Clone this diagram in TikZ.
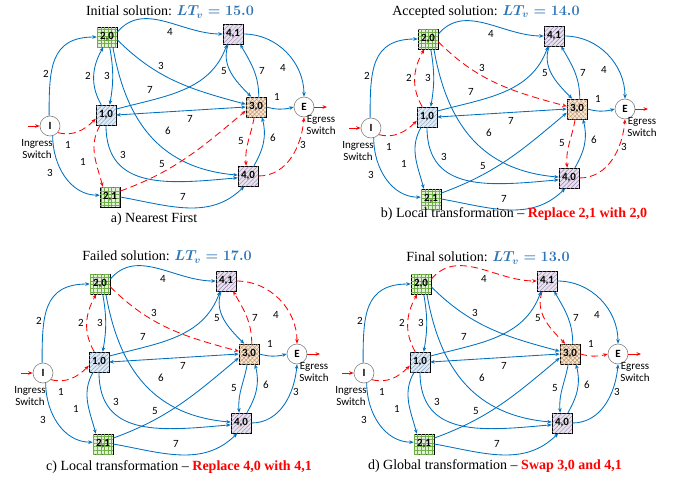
\documentclass[tikz,border=0pt]{standalone}
\usepackage{fontspec}
\setmainfont{Liberation Serif}
\newfontfamily\lblfont{Carlito}
\usetikzlibrary{arrows.meta,patterns.meta,shadows}
\definecolor{myblue}{RGB}{0,112,192}
\definecolor{myred}{RGB}{255,0,0}
\definecolor{tblue}{RGB}{46,117,182}
\definecolor{gfill}{RGB}{226,240,217}
\definecolor{gline}{RGB}{112,173,71}
\definecolor{pfill}{RGB}{232,226,238}
\definecolor{pline}{RGB}{150,130,170}
\definecolor{bfill}{RGB}{222,235,247}
\definecolor{bline}{RGB}{140,160,185}
\definecolor{ofill}{RGB}{248,232,214}
\definecolor{oline}{RGB}{190,150,110}
\newcommand{\ltval}[1]{\textcolor{tblue}{\boldmath$LT_v = #1$}}
\tikzset{
 arrtip/.style={-{Stealth[length=4.5pt,width=3.6pt]}},
 blu/.style={draw=myblue, line width=0.85pt, arrtip},
 rd/.style={draw=myred, line width=0.85pt, dash pattern=on 7pt off 4pt, arrtip},
 rdsolid/.style={draw=myred, line width=0.85pt, arrtip},
 sq/.style={draw=black, line width=0.5pt, minimum size=20pt, inner sep=0pt,
   font={\lblfont\bfseries\fontsize{11}{12}\selectfont},
   drop shadow={shadow xshift=0.8pt, shadow yshift=-0.8pt, opacity=0.35}},
 grn/.style={sq, fill=gfill, postaction={pattern={Hatch[angle=0,distance=3.6pt,line width=0.45pt]}, pattern color=gline}},
 pur/.style={sq, fill=pfill, postaction={pattern={Lines[angle=45,distance=3pt,line width=0.45pt]}, pattern color=pline}},
 lbu/.style={sq, fill=bfill, postaction={pattern={Lines[angle=45,distance=3pt,line width=0.45pt]}, pattern color=bline}},
 org/.style={sq, fill=ofill, postaction={pattern={Hatch[angle=45,distance=3pt,line width=0.45pt]}, pattern color=oline}},
 sw/.style={circle, draw=black!50, line width=0.6pt, fill=white, minimum size=20pt, inner sep=0pt,
   font={\lblfont\bfseries\fontsize{11}{12}\selectfont}},
 lbl/.style={inner sep=0pt, font={\lblfont\fontsize{11}{12}\selectfont}},
 swl/.style={inner sep=0pt, align=center, font={\lblfont\fontsize{11}{12.5}\selectfont}},
 ttl/.style={inner sep=0pt, font={\fontsize{14}{16}\selectfont}},
 cnA/.style={blu}, cnB/.style={blu}, cnC/.style={blu}, cnD/.style={blu},
 cnE/.style={blu}, cnF/.style={blu}, cnG/.style={blu}, cnH/.style={blu},
 cnJ/.style={blu}, cnK/.style={blu}, cnL/.style={blu}, cnM/.style={blu},
 cnN/.style={blu}, cnP/.style={blu}, cnQ/.style={blu}, cnR/.style={blu},
 cnS/.style={blu}, cnT/.style={blu}, cnU/.style={blu}, cnV/.style={blu},
 cnW/.style={blu},
}
\newcommand{\netpanel}[1]{%
 \node[sw]  (#1-I)  at (50,-126) {I};
 \node[grn] (#1-20) at (107,-37) {2,0};
 \node[pur] (#1-41) at (233,-34) {4,1};
 \node[lbu] (#1-10) at (106,-115) {1,0};
 \node[org] (#1-30) at (256,-107) {3,0};
 \node[sw]  (#1-E)  at (304,-107) {E};
 \node[pur] (#1-40) at (248,-176) {4,0};
 \node[grn] (#1-21) at (110,-197) {2,1};
 \node[swl] (#1-ing) at (37,-149) {Ingress\\Switch};
 \node[swl] (#1-egr) at (321,-125) {Egress\\Switch};
 \coordinate (#1-inl) at (28,-126);
 \coordinate (#1-outr) at (327,-107);
 \draw[rdsolid] (#1-inl) -- (#1-I.west);
 \draw[rdsolid] (#1-E.east) -- (#1-outr);
 \draw[cnA] (#1-I.95) to[out=90,in=180,looseness=1.3] (#1-20.west);
 \draw[cnB] (#1-I.-40) to[out=-15,in=225] (#1-10.200);
 \draw[cnC] (#1-I.-75) to[out=-90,in=180] (#1-21.170);
 \draw[cnD] (#1-20.25) to[out=50,in=180] (#1-41.west);
 \draw[cnE] (#1-20.-15) to[out=-45,in=165] (#1-30.165);
 \draw[cnF] (#1-20.-75) to[out=-80,in=80] (#1-10.70);
 \draw[cnG] (#1-10.115) to[out=120,in=-120] (#1-20.-110);
 \draw[cnH] (#1-10.30) to[out=15,in=-110] (#1-41.-120);
 \draw[cnJ] (#1-20.-60) to[out=-80,in=175,looseness=1.1] (#1-40.175);
 \draw[cnK,{Stealth[length=4.5pt,width=3.6pt]}-{Stealth[length=4.5pt,width=3.6pt]}] (#1-10.east) -- (#1-30.west);
 \draw[cnL] (#1-10.-90) to[out=-90,in=185,looseness=1.2] (#1-40.190);
 \draw[cnM] (#1-10.-120) to[out=-120,in=105] (#1-21.125);
 \draw[cnN] (#1-21.30) to[out=20,in=-140] (#1-30.200);
 \draw[cnP] (#1-21.east) to[out=-10,in=-135] (#1-40.-110);
 \draw[cnQ] (#1-30.75) to[out=90,in=-60] (#1-41.-55);
 \draw[cnR] (#1-41.-115) to[out=-110,in=135] (#1-30.115);
 \draw[cnS] (#1-41.east) to[out=0,in=90] (#1-E.north);
 \draw[cnT] (#1-30.east) to[out=-15,in=195] (#1-E.west);
 \draw[cnU] (#1-30.-100) to[out=-100,in=95] (#1-40.100);
 \draw[cnV] (#1-40.60) to[out=60,in=-75] (#1-30.-60);
 \draw[cnW] (#1-40.east) to[out=0,in=-95] (#1-E.south);
 \node[lbl] (#1-lA) at (46,-74) {2};
 \node[lbl] (#1-lB) at (68,-145) {1};
 \node[lbl] (#1-lC) at (50,-173) {3};
 \node[lbl] (#1-lD) at (170,-32) {4};
 \node[lbl] (#1-lE) at (161,-66) {3};
 \node[lbl] (#1-lF) at (107,-76) {3};
 \node[lbl] (#1-lG) at (88,-76) {2};
 \node[lbl] (#1-lH) at (150,-90) {7};
 \node[lbl] (#1-lJ) at (168,-131) {6};
 \node[lbl] (#1-lK) at (190,-119) {7};
 \node[lbl] (#1-lL) at (123,-155) {3};
 \node[lbl] (#1-lM) at (83,-162) {1};
 \node[lbl] (#1-lN) at (162,-164) {5};
 \node[lbl] (#1-lP) at (183,-197) {7};
 \node[lbl] (#1-lQ) at (262,-71) {7};
 \node[lbl] (#1-lR) at (224,-71) {5};
 \node[lbl] (#1-lS) at (283,-68) {4};
 \node[lbl] (#1-lT) at (277,-97) {1};
 \node[lbl] (#1-lU) at (241,-141) {5};
 \node[lbl] (#1-lV) at (273,-138) {6};
 \node[lbl] (#1-lW) at (303,-145) {3};
}
\begin{document}
\begin{tikzpicture}[x=1pt,y=1pt]
\useasboundingbox (0,0) rectangle (673,-479);
\begin{scope}[cnB/.style={rd}, cnM/.style={rd}, cnN/.style={rd}, cnU/.style={rd}, cnW/.style={rd}]
 \netpanel{a}
\end{scope}
\begin{scope}[shift={(321,-2)}, cnB/.style={rd}, cnG/.style={rd}, cnE/.style={rd}, cnU/.style={rd}, cnW/.style={rd}]
 \netpanel{b}
\end{scope}
\begin{scope}[shift={(-7,-247)}, cnB/.style={rd}, cnG/.style={rd}, cnE/.style={rd}, cnQ/.style={rd}, cnS/.style={rd}]
 \netpanel{c}
\end{scope}
\begin{scope}[shift={(314,-247)}, cnB/.style={rd}, cnG/.style={rd}, cnD/.style={rd}, cnR/.style={rd}, cnT/.style={rd}]
 \netpanel{d}
\end{scope}
\node[ttl] (ta) at (170,-12) {Initial solution: \ltval{15.0}};
\node[ttl] (tb) at (486,-12) {Accepted solution: \ltval{14.0}};
\node[ttl] (tc) at (167,-257) {Failed solution: \ltval{17.0}};
\node[ttl] (td) at (488,-258) {Final solution: \ltval{13.0}};
\node[ttl] (ca) at (154,-219) {a) Nearest First};
\node[ttl] (cb) at (514,-214) {b) Local transformation -- \textcolor{myred}{\textbf{Replace 2,1 with 2,0}}};
\node[ttl] (cc) at (179,-467) {c) Local transformation -- \textcolor{myred}{\textbf{Replace 4,0 with 4,1}}};
\node[ttl] (cd) at (495,-466) {d) Global transformation -- \textcolor{myred}{\textbf{Swap 3,0 and 4,1}}};
\end{tikzpicture}
\end{document}
